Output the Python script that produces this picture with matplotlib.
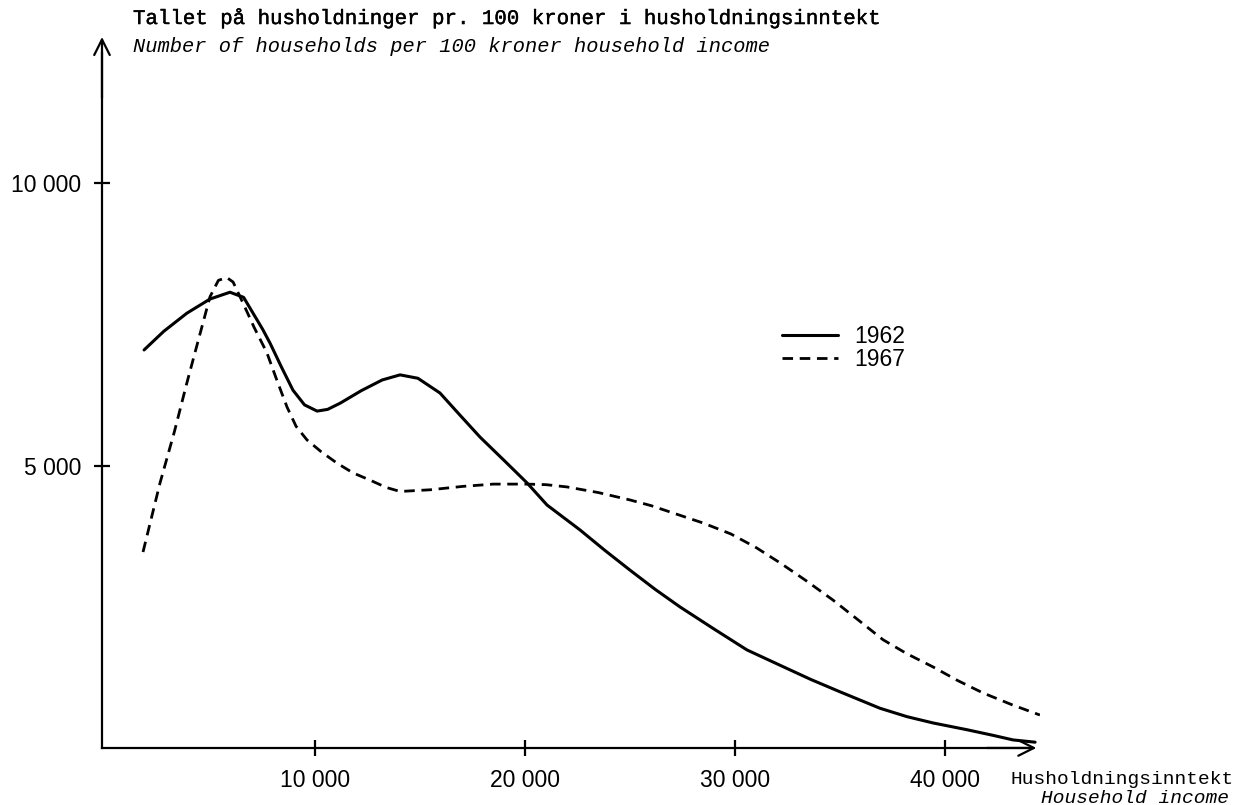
import numpy as np
import matplotlib
matplotlib.use("Agg")
import matplotlib.pyplot as plt
import matplotlib.patheffects as pe

# household income (kroner) vs number of households per 100 kroner
inc_1962 = [1860, 2800, 3900, 5000, 5950, 6600, 7050, 7500, 7860, 8400,
            8950, 9500, 10100, 10600, 11200, 12200, 13200, 14050, 14900,
            15950, 16900, 17860, 19000, 20100, 21050, 22620, 23800, 25000,
            26200, 27380, 29000, 30570, 32140, 33600, 35000, 36900, 38200,
            39430, 41050, 42300, 43240, 44290]
hh_1962 = [7050, 7380, 7700, 7950, 8070, 7980, 7700, 7420, 7170, 6750,
           6340, 6080, 5970, 6000, 6110, 6330, 6520, 6610, 6550,
           6290, 5900, 5510, 5100, 4700, 4310, 3870, 3510, 3160,
           2820, 2510, 2120, 1750, 1480, 1230, 1010, 720, 570,
           460, 340, 240, 160, 120]

inc_1967 = [1810, 2620, 3300, 3900, 4500, 5000, 5400, 5800, 6100, 6570,
            7100, 7710, 8200, 8670, 9100, 9620, 10300, 11050, 11800, 12620,
            13400, 14050, 15500, 17050, 18500, 20100, 21000, 22000, 23500,
            25000, 26000, 27050, 28500, 29800, 31000, 32140, 33400, 34670,
            35900, 37050, 38200, 39430, 40600, 41810, 43200, 44520]
hh_1967 = [3480, 4700, 5600, 6470, 7300, 7990, 8280, 8330, 8250, 7880,
           7450, 7000, 6500, 6040, 5700, 5460, 5250, 5050, 4880, 4750,
           4620, 4550, 4580, 4640, 4680, 4680, 4670, 4630, 4530,
           4400, 4300, 4170, 3990, 3800, 3560, 3290, 2970, 2630,
           2270, 1930, 1680, 1450, 1210, 990, 780, 600]

x_ticks = [10000, 20000, 30000, 40000]
x_labels = ["10 000", "20 000", "30 000", "40 000"]
y_ticks = [5000, 10000]
y_labels = ["5 000", "10 000"]

mono = "Liberation Mono"
sans = "Liberation Sans"
ink = [pe.withStroke(linewidth=0.3, foreground="black")]

fig = plt.figure(figsize=(12.42, 8.05), dpi=100)
ax = fig.add_axes([100/1242, 55/805, 940/1242, 715/805])
ax.set_xlim(-238, 44524)
ax.set_ylim(-18, 12615)

x0, y0 = -143, 18

ax.plot(inc_1962, hh_1962, color="black", lw=2.2, label="1962",
        solid_joinstyle="round", solid_capstyle="round")
ax.plot(inc_1967, hh_1967, color="black", lw=2.0, dashes=(3.8, 2.4), label="1967")

for s in ["top", "right"]:
    ax.spines[s].set_visible(False)
ax.spines["left"].set_position(("data", x0))
ax.spines["bottom"].set_position(("data", y0))
ax.spines["left"].set_bounds(y0, 12300)
ax.spines["bottom"].set_bounds(x0, 44000)
ax.spines["left"].set_linewidth(1.6)
ax.spines["bottom"].set_linewidth(1.6)

# arrow heads
arr = dict(arrowstyle="->", lw=1.6, mutation_scale=28, shrinkA=0, shrinkB=0, color="black")
ax.annotate("", xy=(x0, 12580), xytext=(x0, 11500), arrowprops=arr)
ax.annotate("", xy=(44350, y0), xytext=(42000, y0), arrowprops=arr)

ax.set_xticks(x_ticks, x_labels)
ax.set_yticks(y_ticks, y_labels)
ax.tick_params(direction="inout", length=12, width=1.6)
ax.tick_params(axis="x", pad=9)
ax.tick_params(axis="y", pad=9)
for lab in ax.get_xticklabels() + ax.get_yticklabels():
    lab.set_fontfamily(sans)
    lab.set_fontsize(16.5)

fig.text(133/1242, 1 - 18/805, "Tallet på husholdninger pr. 100 kroner i husholdningsinntekt",
         family=mono, fontsize=14.95, va="center", ha="left", path_effects=ink)
fig.text(133/1242, 1 - 47/805, "Number of households per 100 kroner household income",
         family=mono, fontsize=14.7, style="italic", va="center", ha="left")
fig.text(1011/1242, 1 - 784/805, "Husholdningsinntekt",
         family=mono, fontsize=14.0, va="baseline", ha="left")
fig.text(1229/1242, 2/805, "Household income",
         family=mono, fontsize=14.0, style="italic", va="baseline", ha="right")

leg = ax.legend(loc="upper left", bbox_to_anchor=(782/1242, 1 - 325/805),
                bbox_transform=fig.transFigure, frameon=False, borderpad=0,
                borderaxespad=0, labelspacing=0.0, handlelength=2.45,
                handletextpad=0.7, prop={"family": sans, "size": 16.5})

fig.savefig("out.png", dpi=100)
